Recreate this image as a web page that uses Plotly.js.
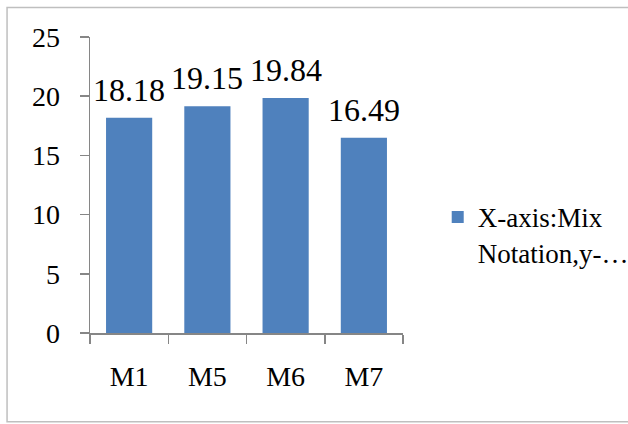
<!DOCTYPE html>
<html>
<head>
<meta charset="utf-8">
<script src="https://cdn.plot.ly/plotly-3.0.1.min.js"></script>
<style>html,body{margin:0;padding:0;background:#fff;}#chart{width:628px;height:424px;}</style>
</head>
<body>
<div id="chart"></div>
<script>
var categories = ["M1", "M5", "M6", "M7"];
var values = [18.18, 19.15, 19.84, 16.49];
var valueLabels = ["18.18", "19.15", "19.84", "16.49"];
var seriesName = "X-axis:Mix<br>Notation,y-…";
var yTicks = [0, 5, 10, 15, 20, 25];

var fontFam = "serif";
var fs = 28;
var trace = {
  type: "bar",
  x: categories,
  y: values,
  name: seriesName,
  marker: {color: "#4F81BD"},
  showlegend: true
};
var annotations = categories.map(function (c, i) {
  return {
    x: c, y: values[i], xref: "x", yref: "y",
    text: valueLabels[i], showarrow: false,
    yanchor: "bottom", yshift: 8,
    font: {family: fontFam, size: 32, color: "#000"}
  };
});
var layout = {
  width: 628, height: 424,
  margin: {l: 90, r: 225, t: 37, b: 91},
  paper_bgcolor: "#fff", plot_bgcolor: "#fff",
  font: {family: fontFam, size: fs, color: "#000"},
  bargap: 0.41,
  xaxis: {
    type: "category",
    showline: true, linecolor: "#868686", linewidth: 1.5,
    ticks: "outside", tickson: "boundaries", ticklen: 9, tickcolor: "#868686", tickwidth: 1.5,
    showgrid: false, zeroline: false,
    ticklabelstandoff: 18,
    tickfont: {family: fontFam, size: fs, color: "#000"}
  },
  yaxis: {
    range: [0, 25],
    tickvals: yTicks,
    showline: true, linecolor: "#868686", linewidth: 1.5,
    ticks: "outside", ticklen: 9, tickcolor: "#868686", tickwidth: 1.5,
    showgrid: false, zeroline: false,
    ticklabelstandoff: 14,
    tickfont: {family: fontFam, size: fs, color: "#000"}
  },
  legend: {
    xref: "container", yref: "container",
    x: 0.697, y: 0.446, xanchor: "left", yanchor: "middle",
    valign: "top",
    font: {family: fontFam, size: 27, color: "#000"},
    bgcolor: "rgba(0,0,0,0)", itemwidth: 30
  },
  annotations: annotations,
  shapes: [{
    type: "rect", xref: "paper", yref: "paper",
    x0: -0.265, x1: 1.75, y0: -0.3, y1: 1.1,
    line: {color: "#BFBFBF", width: 1.5}
  }]
};
Plotly.newPlot("chart", [trace], layout, {displayModeBar: false, staticPlot: true});
</script>
</body>
</html>
